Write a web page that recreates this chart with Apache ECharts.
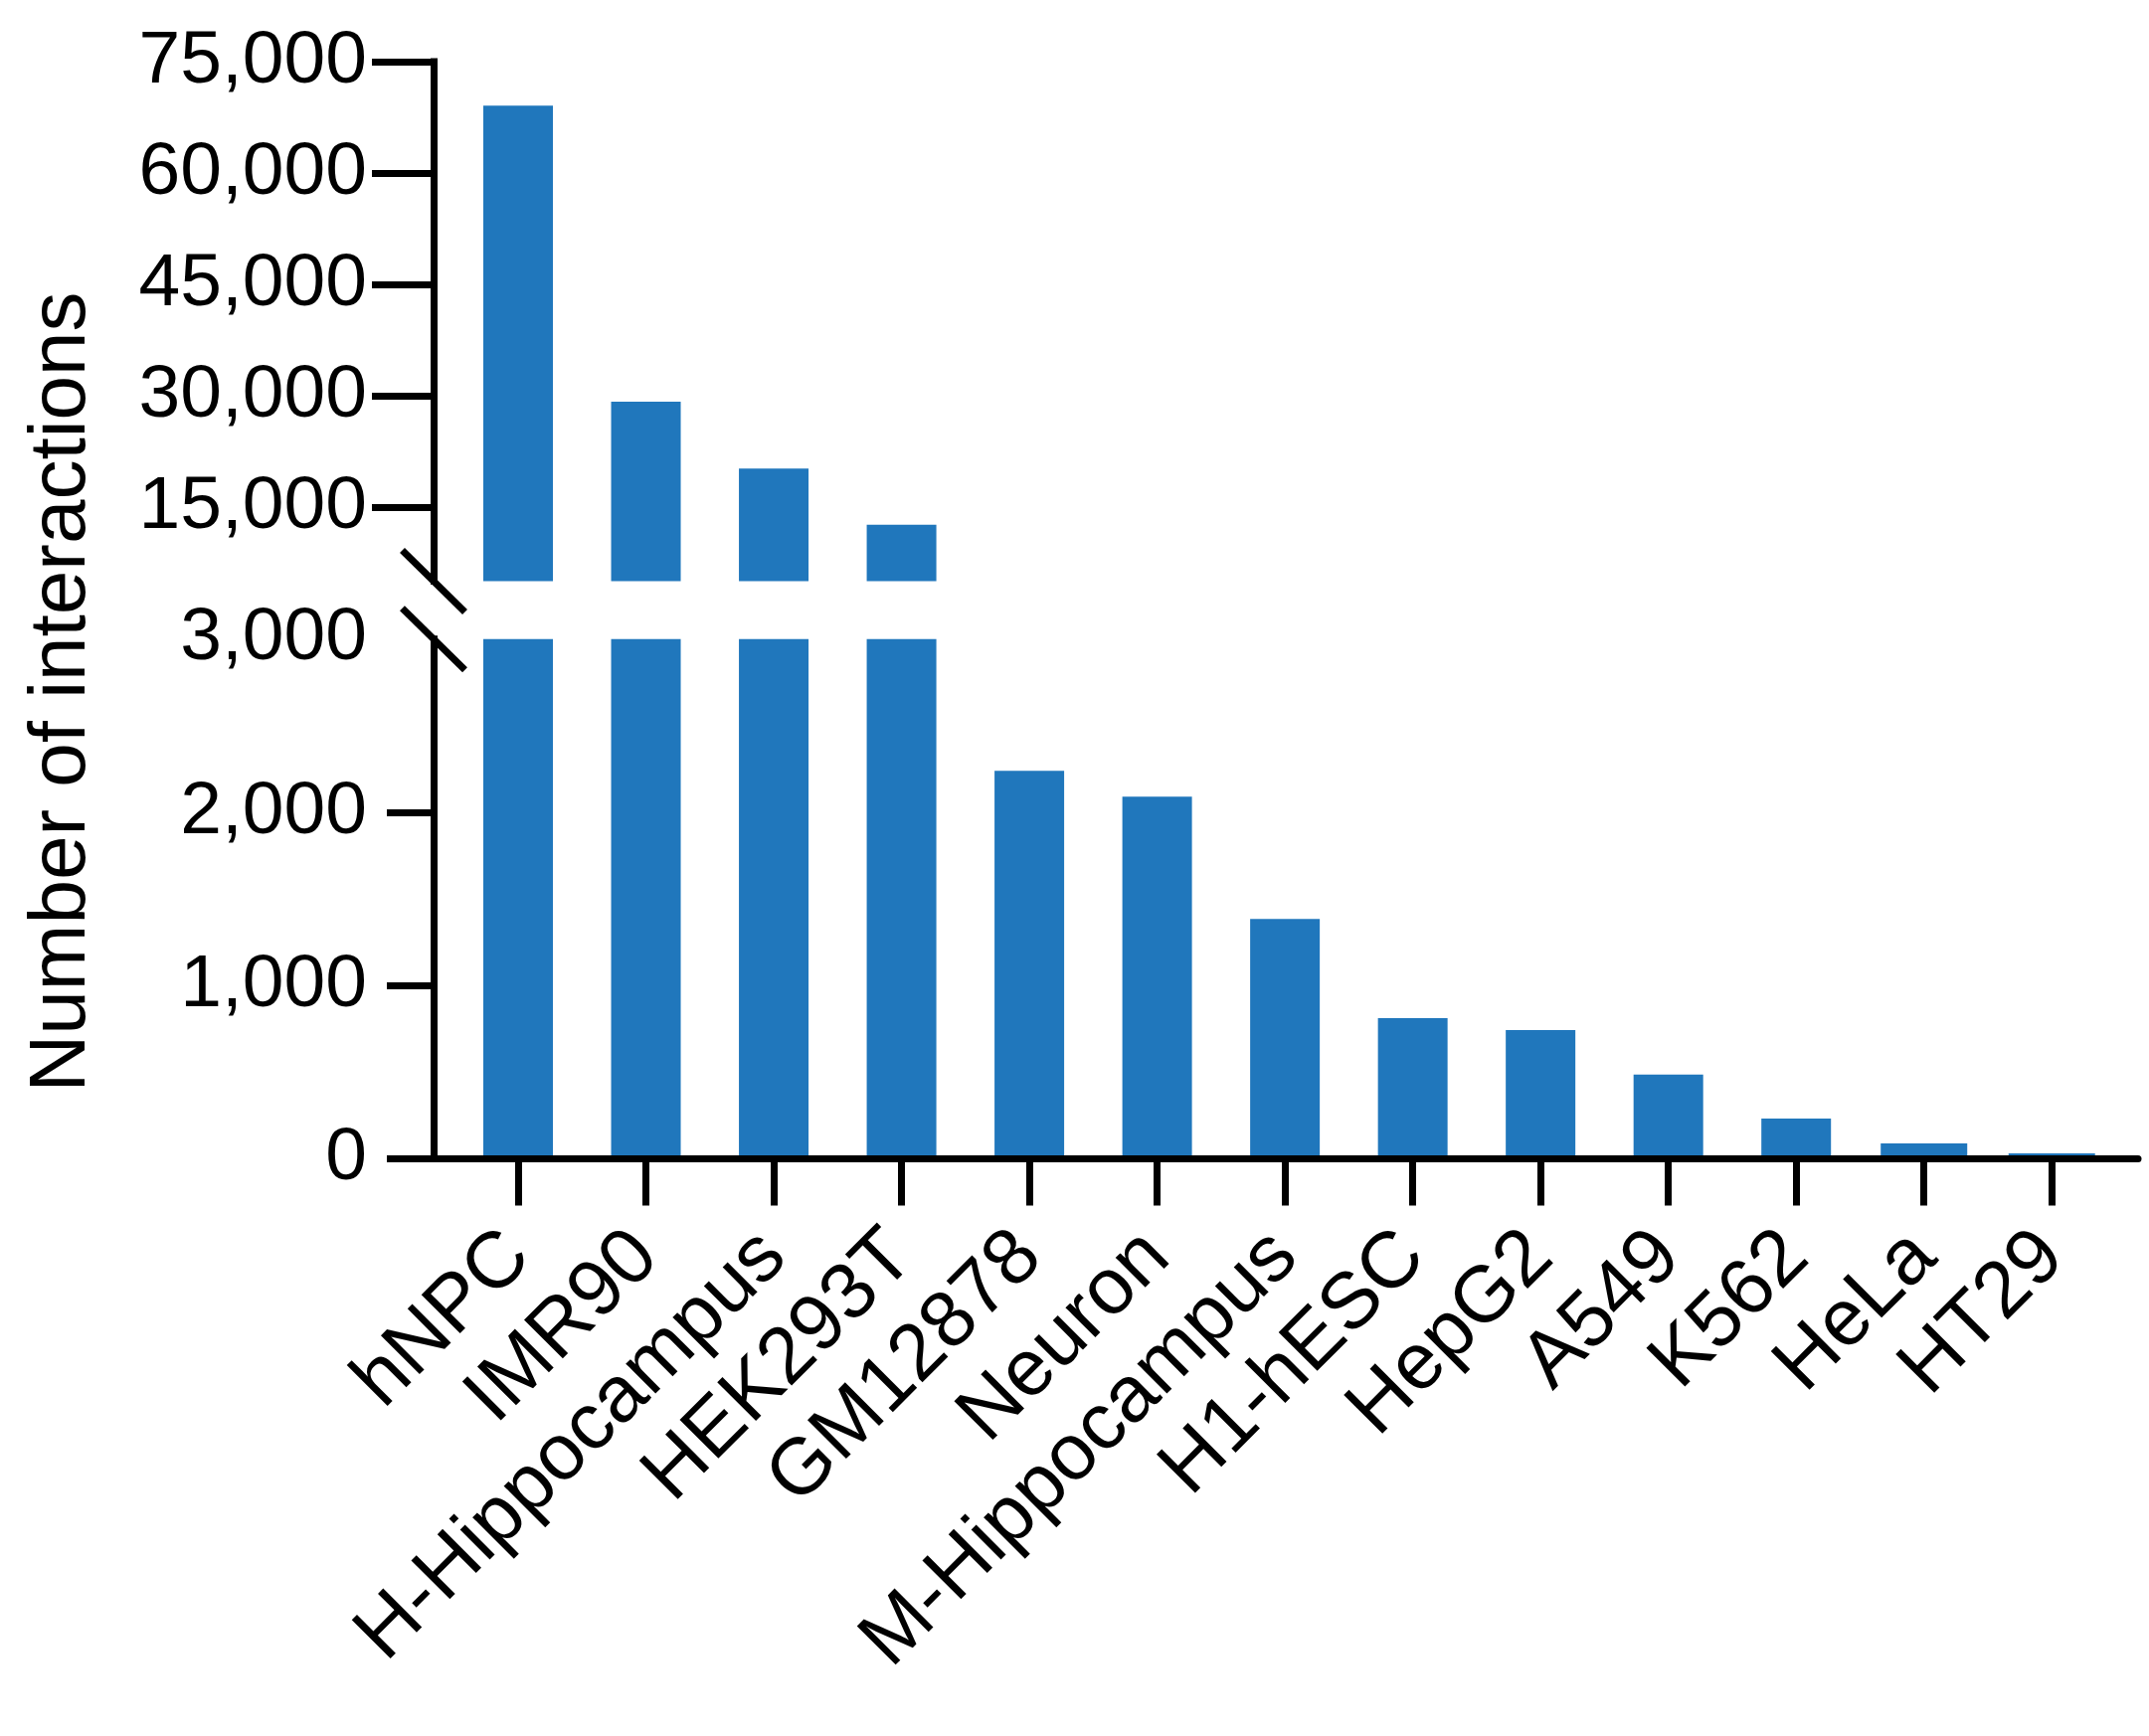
<!DOCTYPE html>
<html>
<head>
<meta charset="utf-8">
<script src="https://cdn.jsdelivr.net/npm/echarts@6/dist/echarts.min.js"></script>
<style>
html,body{margin:0;padding:0;background:#ffffff;}
#chart{width:2161px;height:1746px;}
</style>
</head>
<body>
<div id="chart"></div>
<script>
// ---- data ----
const categories = ['hNPC', 'IMR90', 'H-Hippocampus', 'HEK293T', 'GM12878', 'Neuron', 'M-Hippocampus', 'H1-hESC', 'HepG2', 'A549', 'K562', 'HeLa', 'HT29'];
const interactions = [69080, 29180, 20180, 12630, 2239, 2090, 1384, 812, 744, 487, 233, 89, 32];
const upperTickValues = [15000, 30000, 45000, 60000, 75000];
const lowerTickValues = [0, 1000, 2000];
const lowerLabelValues = [0, 1000, 2000, 3000];
const yTitle = 'Number of interactions';
const lowerMax = 3000;
const upperMin = 5000;
const upperMax = 75000;

// ---- styling / layout ----
const wideBars = ['HeLa', 'HT29'];
const W = 2161, H = 1746;
const plotLeft = 456.75, plotRight = 2127.5;
const axisX = 436;
const upTop = 62.1, upBottom = 584.6, lowTop = 642.7, lowBottom = 1165.6;
const lineEnd = 2150;
const LW = 7;
const FONT = '"Liberation Sans", Arial, Helvetica, sans-serif';
const BLUE = '#2077BC';
const BLACK = '#000000';
const fmt = v => Number(v).toLocaleString('en-US');

const upperData = interactions.map(v => v > upperMin ? v : null);
const narrowData = interactions.map((v, i) => wideBars.includes(categories[i]) ? null : v);
const wideData = interactions.map((v, i) => wideBars.includes(categories[i]) ? v : null);

const chart = echarts.init(document.getElementById('chart'), null, {renderer: 'canvas'});
const lineStyle = {color: BLACK, width: LW};

chart.setOption({
  animation: false,
  backgroundColor: '#ffffff',
  grid: [
    {left: plotLeft, right: W - plotRight, top: upTop, height: upBottom - upTop, containLabel: false, outerBoundsMode: 'none'},
    {left: plotLeft, right: W - plotRight, top: lowTop, height: lowBottom - lowTop, containLabel: false, outerBoundsMode: 'none'},
    {left: axisX, right: W - lineEnd, top: lowTop, height: lowBottom - lowTop, containLabel: false, outerBoundsMode: 'none'}
  ],
  xAxis: [
    {type: 'category', gridIndex: 0, data: categories, show: false},
    {
      type: 'category', gridIndex: 1, data: categories, z: 6,
      axisLine: {show: false},
      axisTick: {show: true, alignWithLabel: true, length: 47, lineStyle: lineStyle},
      axisLabel: {
        show: true, interval: 0, rotate: 45, margin: 86,
        fontSize: 80, fontFamily: FONT, color: BLACK
      },
      splitLine: {show: false}
    },
    {type: 'category', gridIndex: 1, data: categories, show: false},
    {
      type: 'value', gridIndex: 2, min: 0, max: 1, z: 6,
      axisLine: {show: true, onZero: false, lineStyle: lineStyle},
      axisTick: {show: false}, axisLabel: {show: false}, splitLine: {show: false}
    }
  ],
  yAxis: [
    {
      type: 'value', gridIndex: 0, min: upperMin, max: upperMax, offset: plotLeft - axisX, z: 6,
      axisLine: {show: true, lineStyle: {color: BLACK, width: LW, cap: 'square'}},
      axisTick: {show: true, customValues: upperTickValues, length: 62, lineStyle: lineStyle},
      axisLabel: {
        show: true, customValues: upperTickValues, formatter: fmt, margin: 67,
        padding: [11, 0, 0, 0],
        fontSize: 75, fontFamily: FONT, color: BLACK
      },
      splitLine: {show: false}
    },
    {
      type: 'value', gridIndex: 1, min: 0, max: lowerMax, offset: plotLeft - axisX, z: 6,
      axisLine: {show: true, lineStyle: {color: BLACK, width: LW, cap: 'square'}},
      axisTick: {show: true, customValues: lowerTickValues, length: 47, lineStyle: lineStyle},
      axisLabel: {
        show: true, customValues: lowerLabelValues, formatter: fmt, margin: 67,
        padding: [11, 0, 0, 0],
        fontSize: 75, fontFamily: FONT, color: BLACK
      },
      splitLine: {show: false}
    },
    {type: 'value', gridIndex: 2, min: 0, max: 1, show: false}
  ],
  series: [
    {type: 'bar', name: 'upper', xAxisIndex: 0, yAxisIndex: 0, data: upperData, barWidth: 70, clip: true, silent: true, itemStyle: {color: BLUE}},
    {type: 'bar', name: 'lower', xAxisIndex: 1, yAxisIndex: 1, data: narrowData, barWidth: 70, clip: true, silent: true, itemStyle: {color: BLUE}},
    {type: 'bar', name: 'lowerWide', xAxisIndex: 2, yAxisIndex: 1, data: wideData, barWidth: 87, clip: true, silent: true, itemStyle: {color: BLUE}}
  ],
  graphic: [
    {type: 'line', z: 10, shape: {x1: axisX - 31.5, y1: upBottom - 31, x2: axisX + 31.5, y2: upBottom + 31}, style: {stroke: BLACK, lineWidth: LW}},
    {type: 'line', z: 10, shape: {x1: axisX - 31.5, y1: lowTop - 31, x2: axisX + 31.5, y2: lowTop + 31}, style: {stroke: BLACK, lineWidth: LW}},
    {
      type: 'text', z: 10, x: 63, y: 696, rotation: Math.PI / 2,
      style: {text: yTitle, fontSize: 80, fontFamily: FONT, fill: BLACK, align: 'center', verticalAlign: 'middle', textAlign: 'center', textVerticalAlign: 'middle'}
    }
  ]
});
</script>
</body>
</html>
